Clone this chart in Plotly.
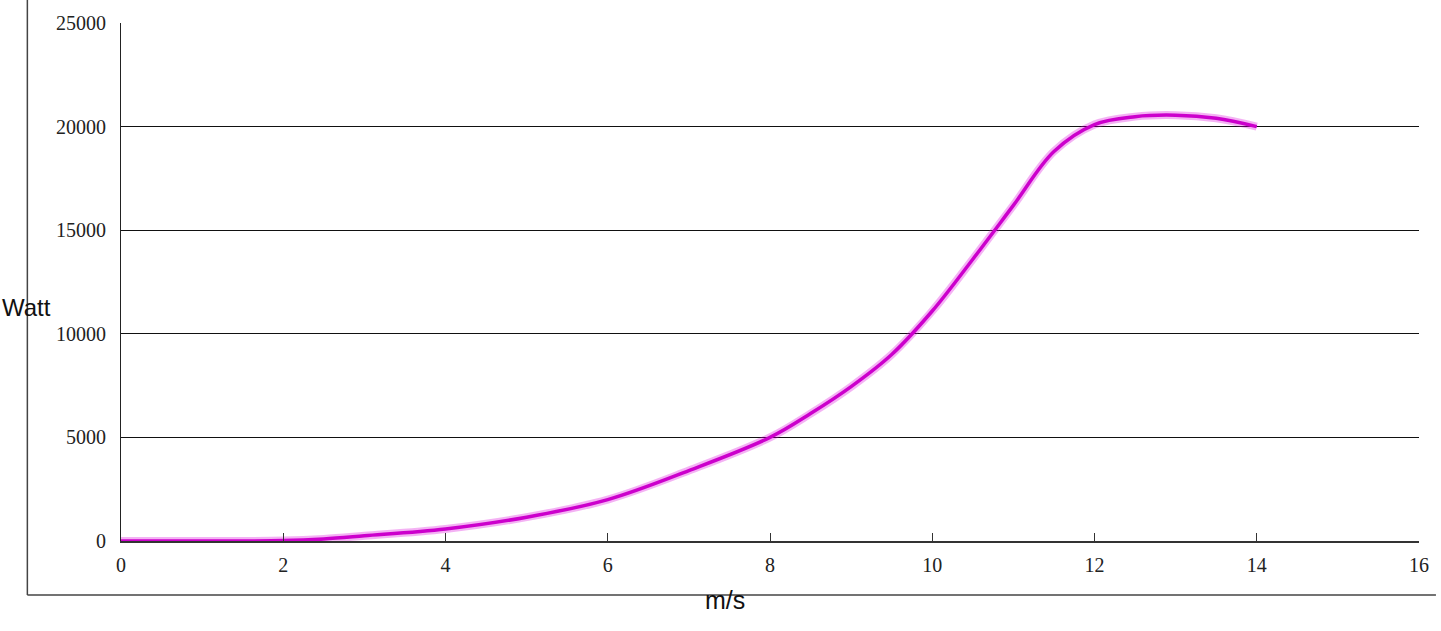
import plotly.graph_objects as go

speed = [0, 1, 2, 2.5, 3, 4, 5, 6, 7, 8, 8.5, 9, 9.5, 10, 10.5, 11, 11.5, 12, 12.5, 13, 13.5, 14]
power = [0, 0, 20, 100, 250, 580, 1150, 2000, 3400, 5000, 6150, 7450, 9000, 11100, 13600, 16200, 18800, 20100, 20480, 20550, 20400, 20000]

x_ticks = [0, 2, 4, 6, 8, 10, 12, 14, 16]
y_ticks = [0, 5000, 10000, 15000, 20000, 25000]
y_labels = ["0", "5000", "10000", "15000", "20000", "25000"]

W, H = 1441, 631
L, R, T, B = 121, 17, 23, 90
pw, ph = W - L - R, H - T - B

def px(xp):
    return (xp - L) / pw

def py(yp):
    return (H - B - yp) / ph

fig = go.Figure()
fig.add_trace(go.Scatter(x=speed, y=power, mode="lines",
                         line=dict(color="rgba(220,0,220,0.3)", width=8, shape="spline", smoothing=1.0),
                         hoverinfo="skip", showlegend=False))
fig.add_trace(go.Scatter(x=speed, y=power, mode="lines",
                         line=dict(color="#CC00CC", width=3.5, shape="spline", smoothing=1.0),
                         showlegend=False))

serif = "Liberation Serif, DejaVu Serif, serif"
sans = "Liberation Sans, Arial, sans-serif"
fig.update_layout(
    width=W, height=H,
    margin=dict(l=L, r=R, t=T, b=B),
    plot_bgcolor="white", paper_bgcolor="white",
    xaxis=dict(range=[0, 16], tickvals=x_ticks, ticks="inside", ticklen=8, tickcolor="#333",
               showline=True, linecolor="#333", linewidth=1.5, showgrid=False, zeroline=False,
               tickfont=dict(family=serif, size=20, color="#222"), ticklabelstandoff=5),
    yaxis=dict(range=[0, 25000], tickvals=y_ticks, ticktext=y_labels, ticks="", showline=True,
               linecolor="#222", linewidth=1.2, showgrid=True, gridcolor="#111", gridwidth=1,
               zeroline=False, tickfont=dict(family=serif, size=20, color="#222"), ticklabelstandoff=10),
    annotations=[
        dict(text="Watt", x=px(0), y=py(307), xref="paper", yref="paper", xanchor="left",
             yanchor="middle", showarrow=False, font=dict(family=sans, size=24, color="#111")),
        dict(text="m/s", x=px(727), y=py(600), xref="paper", yref="paper", xanchor="center",
             yanchor="middle", showarrow=False, font=dict(family=sans, size=25, color="#111")),
    ],
    shapes=[
        dict(type="line", xref="paper", yref="paper", x0=px(27), x1=px(27), y0=py(0), y1=py(595),
             line=dict(color="#444", width=1.5)),
        dict(type="line", xref="paper", yref="paper", x0=px(27), x1=px(1441), y0=py(595), y1=py(595),
             line=dict(color="#444", width=1.5)),
    ],
)
fig.write_html("out.html")
